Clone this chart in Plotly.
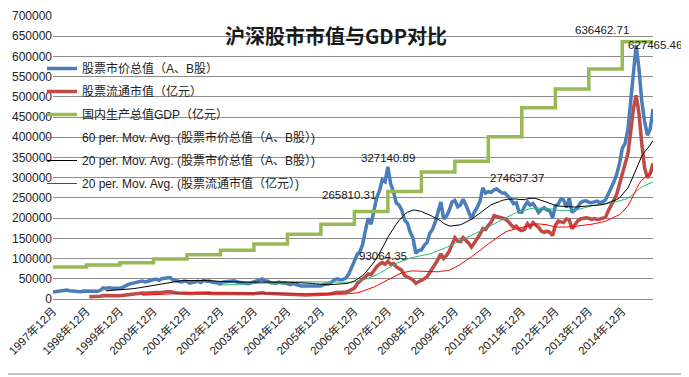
import pandas as pd
import plotly.graph_objects as go

# ---------------- data ----------------
months = pd.date_range("1997-12-01", periods=216, freq="MS")

blue_total = [
    17529,
    18500, 19000, 20000, 21500, 22000, 20500, 20000, 17500, 18500, 18000, 19500, 19506,
    18500, 18000, 19000, 19000, 21500, 27500, 26000, 27500, 26500, 26000, 25500, 26471,
    29000, 33000, 36000, 38000, 39000, 40000, 43000, 44500, 42000, 44000, 46500, 48091,
    49000, 46000, 50000, 51000, 53500, 53000, 47000, 46000, 44000, 42000, 44500, 43522,
    39000, 40000, 42000, 43500, 41000, 46000, 44000, 44500, 42000, 40500, 39000, 38329,
    42000, 42500, 42000, 43500, 45000, 42000, 41500, 40000, 38500, 38000, 40000, 42458,
    45000, 48500, 49500, 45000, 44000, 40000, 40000, 39000, 42000, 39500, 40000, 37056,
    35500, 38000, 35000, 34000, 32000, 32000, 31500, 33500, 33500, 31500, 31500, 32430,
    35500, 37000, 38000, 42500, 48000, 50000, 47500, 48500, 52000, 62000, 78000, 98000,
    110000, 118000, 135000, 170000, 200000, 185000, 222000, 250000, 268000, 295000, 290000, 327140.89,
    285000, 265000, 238000, 232000, 220000, 195000, 188000, 165000, 150000, 113000, 120000, 121366,
    133000, 140000, 162000, 172000, 190000, 212000, 240000, 198000, 205000, 220000, 240000, 243939,
    228000, 233000, 247000, 232000, 215000, 198000, 215000, 226000, 242000, 274637.37, 262000, 265423,
    264000, 270000, 272000, 268000, 262000, 262000, 256000, 247000, 236000, 238000, 215000, 214758,
    230000, 240000, 232000, 236000, 226000, 214000, 222000, 226000, 220000, 218000, 201000, 230358,
    235000, 248000, 245000, 226000, 250000, 214000, 220000, 226000, 238000, 242000, 243000, 239077,
    238000, 240000, 242000, 238000, 240000, 245000, 259000, 275000, 290000, 308000, 335000, 372547,
    385000, 420000, 490000, 560000, 627465.46, 570000, 490000, 440000, 405000, 420000, 470000,
]

red_months = pd.date_range("1999-01-01", periods=203, freq="MS")
red_float = [
    5800, 5700, 6000, 6000, 6800, 8700, 8200, 8800, 8300, 8100, 7900, 8214,
    9000, 10500, 11500, 12300, 12800, 13200, 14300, 14900, 14000, 14800, 15600, 16088,
    16300, 15300, 16700, 17200, 18200, 18000, 15900, 15500, 14800, 14200, 15000, 14463,
    12900, 13300, 14000, 14400, 13600, 15200, 14500, 14700, 13800, 13300, 12800, 12485,
    13700, 13800, 13600, 14000, 14500, 13400, 13200, 12700, 12200, 12100, 12600, 13179,
    14000, 15000, 15500, 14200, 13900, 12600, 12600, 12300, 13300, 12500, 12600, 11689,
    11000, 11800, 10900, 10500, 9900, 9900, 9700, 10600, 10700, 10100, 10200, 10631,
    11600, 12100, 12400, 13600, 15800, 16600, 15900, 16300, 17400, 19500, 22500, 27000,
    38000, 45000, 50000, 55000, 62000, 60000, 70000, 80000, 86000, 90000, 86000, 93064.35,
    86000, 88000, 80000, 76000, 71000, 58000, 54000, 52000, 47000, 39000, 42000, 45214,
    50000, 55000, 65000, 74000, 85000, 98000, 112000, 100000, 108000, 118000, 135000, 151259,
    143000, 142000, 152000, 145000, 138000, 128000, 138000, 148000, 160000, 174000, 172000, 182000,
    190000, 206000, 204000, 201000, 199000, 198000, 193000, 186000, 177000, 180000, 172000, 169000,
    172000, 186000, 178000, 189000, 184000, 177000, 168000, 165000, 168000, 165000, 157000, 181658,
    193000, 192000, 189000, 198000, 196000, 174000, 185000, 193000, 198000, 199000, 201000, 199580,
    197000, 199000, 197000, 198000, 200000, 202000, 218000, 230000, 245000, 259000, 284000, 315624,
    340000, 360000, 410000, 470000, 504000, 460000, 385000, 325000, 300000, 310000, 336000,
]

gdp_dates = ["1997-12-01", "1998-12-01", "1999-12-01", "2000-12-01", "2001-12-01",
             "2002-12-01", "2003-12-01", "2004-12-01", "2005-12-01", "2006-12-01",
             "2007-12-01", "2008-12-01", "2009-12-01", "2010-12-01", "2011-12-01",
             "2012-12-01", "2013-12-01", "2014-12-01", "2015-11-01"]
gdp_values = [78973, 84402, 89677, 99215, 109655, 120333, 135823, 159878, 184937,
              216314, 265810.31, 314045, 340903, 401513, 473104, 519470, 568845,
              636462.71, 636462.71]

tick_dates = [f"{y}-12-01" for y in range(1997, 2015)]
tick_labels = [f"{y}年12月" for y in range(1997, 2015)]

names = ["股票市价总值（A、B股）", "股票流通市值（亿元）", "国内生产总值GDP（亿元）",
         "60 per. Mov. Avg. (股票市价总值（A、B股）)",
         "20 per. Mov. Avg. (股票市价总值（A、B股）)",
         "20 per. Mov. Avg. (股票流通市值（亿元）)"]

# moving-average trendlines (as defined in the chart legend)
blue_s = pd.Series(blue_total, index=months)
red_s = pd.Series(red_float, index=red_months)
ma60_blue = blue_s.rolling(60).mean()
ma20_blue = blue_s.rolling(20).mean()
ma20_red = red_s.rolling(20).mean()

# ---------------- figure ----------------
FONT = "Liberation Sans, Noto Sans CJK SC, sans-serif"
BLUE = "#4A7EBB"
RED = "#BE4B48"
GREEN = "#98B954"
TEAL = "#2EB872"

# page body has an 8px default margin: lay out in window coordinates minus 8
OFF = 8
W, H = 689 - OFF, 377 - OFF
L, R, T, B = 53 - OFF, 653 - OFF, 16 - OFF, 299 - OFF
pw, ph = R - L, B - T

fig = go.Figure()
fig.add_trace(go.Scatter(x=months, y=blue_total, mode="lines", name=names[0],
                         line=dict(color=BLUE, width=3.5), legendgroup="a"))
fig.add_trace(go.Scatter(x=red_months, y=red_float, mode="lines", name=names[1],
                         line=dict(color=RED, width=3.5), legendgroup="b"))
fig.add_trace(go.Scatter(x=gdp_dates, y=gdp_values, mode="lines", name=names[2],
                         line=dict(color=GREEN, width=3.5, shape="hv"), legendgroup="c"))
fig.add_trace(go.Scatter(x=months, y=ma60_blue, mode="lines", name=names[3],
                         line=dict(color=TEAL, width=1), legendgroup="d"))
fig.add_trace(go.Scatter(x=months, y=ma20_blue, mode="lines", name=names[4],
                         line=dict(color="#000000", width=1), legendgroup="e"))
fig.add_trace(go.Scatter(x=red_months, y=ma20_red, mode="lines", name=names[5],
                         line=dict(color="#FF0000", width=1), legendgroup="f"))

# data labels
lab_font = dict(family=FONT, size=11.5, color="#1a1a1a")
labels = [
    # (x, y, text, xanchor, xshift, yshift)
    ("2007-12-01", 327140.89, "327140.89", "center", 0, 9),
    ("2007-12-01", 265810.31, "265810.31", "right", -10, -3),
    ("2007-12-01", 93064.35, "93064.35", "center", -5, 5),
    ("2010-10-01", 274637.37, "274637.37", "left", 5, 10),
    ("2014-12-01", 636462.71, "636462.71", "center", -20, 12),
    ("2015-05-01", 627465.46, "627465.46", "center", 19, 0),
]
for x, y, t, xa, xs, ys in labels:
    fig.add_annotation(x=x, y=y, text=t, showarrow=False, xanchor=xa, yanchor="middle",
                       xshift=xs, yshift=ys, font=lab_font)

# outer chart frame (right and bottom edges visible in the window)
fig.add_shape(type="line", xref="paper", yref="paper",
              x0=(686 - OFF - L) / pw, x1=(686 - OFF - L) / pw,
              y0=(B - (374 - OFF)) / ph, y1=(B - 0) / ph,
              line=dict(color="#8a8a8a", width=1))
fig.add_shape(type="line", xref="paper", yref="paper",
              x0=(0 - L) / pw, x1=(686 - OFF - L) / pw,
              y0=(B - (374 - OFF)) / ph, y1=(B - (374 - OFF)) / ph,
              line=dict(color="#8a8a8a", width=1))

fig.update_layout(
    width=W, height=H,
    margin=dict(l=L, r=W - R, t=T, b=H - B, autoexpand=False),
    paper_bgcolor="white", plot_bgcolor="white",
    font=dict(family=FONT, size=12, color="#222"),
    title=dict(text="<b>沪深股市市值与GDP对比</b>", x=(336 - 53) / pw, xref="paper",
               xanchor="center", y=1 - (37 - OFF) / H, yanchor="middle",
               font=dict(family="Noto Sans CJK SC, sans-serif", size=20, color="#1a1a1a")),
    legend=dict(x=(42 - 53) / pw, y=(B - (54 - OFF)) / ph, xanchor="left", yanchor="top",
                bgcolor="rgba(0,0,0,0)", font=dict(family=FONT, size=12, color="#222"),
                tracegroupgap=4, traceorder="grouped"),
    showlegend=True,
    xaxis=dict(type="date", range=["1997-12-01", "2015-11-01"], tickvals=tick_dates,
               ticktext=tick_labels, tickangle=-45, showgrid=False, zeroline=False,
               showline=True, linecolor="#8c8c8c", linewidth=1, ticks="",
               ticklabeloverflow="allow",
               tickfont=dict(family=FONT, size=11.5, color="#222")),
    yaxis=dict(range=[0, 700000], dtick=50000, tickformat="d", showgrid=True,
               gridcolor="#8c8c8c", gridwidth=1, zeroline=False, showline=False,
               ticks="", ticklabeloverflow="allow",
               tickfont=dict(family=FONT, size=12, color="#222")),
)

fig.write_html("out.html")
